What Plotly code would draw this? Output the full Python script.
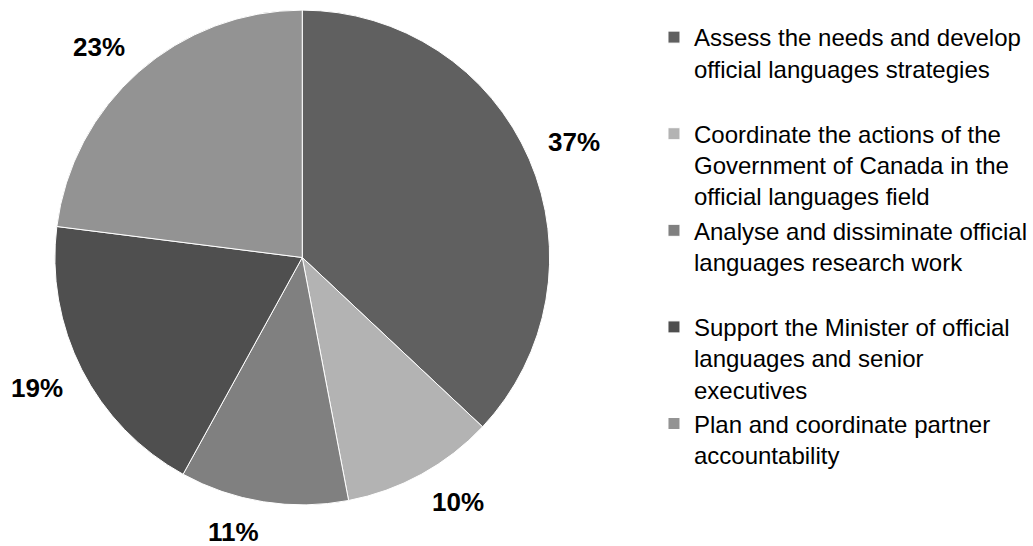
import math
import plotly.graph_objects as go

categories = [
    "Assess the needs and develop<br>official languages strategies",
    "Coordinate the actions of the<br>Government of Canada in the<br>official languages field",
    "Analyse and dissiminate official<br>languages research work",
    "Support the Minister of official<br>languages and senior<br>executives",
    "Plan and coordinate partner<br>accountability",
]
values = [37, 10, 11, 19, 23]
colors = ["#606060", "#b3b3b3", "#808080", "#4f4f4f", "#939393"]

W, H = 1033, 546
dom_x = [0.0537, 0.5378]
dom_y = [0.0705, 0.9863]

# pad every legend entry to 3 lines so entries are evenly spaced like the original
labels = []
for c in categories:
    n = c.count("<br>") + 1
    labels.append(c + "<br>\u00a0" * (3 - n))

fig = go.Figure(
    go.Pie(
        labels=labels,
        values=values,
        sort=False,
        direction="clockwise",
        rotation=0,
        marker=dict(colors=colors, line=dict(color="white", width=1)),
        textinfo="none",
        domain=dict(x=dom_x, y=dom_y),
        hoverinfo="label+percent",
    )
)

# percentage labels: the label corner nearest the pie sits on a circle just
# outside the pie, at each slice's mid angle (Excel "outside end" style)
total = sum(values)
cx = (dom_x[0] + dom_x[1]) / 2
cy = (dom_y[0] + dom_y[1]) / 2
r_px = min((dom_x[1] - dom_x[0]) * W, (dom_y[1] - dom_y[0]) * H) / 2
offset = 20
R = r_px + offset
cum = 0
annotations = []
for v in values:
    mid = (cum + v / 2) / total * 2 * math.pi
    cum += v
    s, c = math.sin(mid), math.cos(mid)
    upper = c > 0
    annotations.append(
        dict(
            x=cx + R * s / W,
            y=cy + R * c / H,
            xref="paper",
            yref="paper",
            xanchor="left" if s > 0 else "right",
            yanchor="bottom" if upper else "top",
            yshift=-8 if upper else 8,
            borderpad=0,
            text=f"{round(v / total * 100)}%",
            showarrow=False,
            font=dict(family="Liberation Sans, Arial", size=26, color="black", weight="bold"),
        )
    )

fig.update_layout(
    width=W,
    height=H,
    margin=dict(l=0, r=0, t=0, b=0),
    paper_bgcolor="white",
    plot_bgcolor="white",
    font=dict(family="Liberation Sans, Arial", color="black"),
    showlegend=True,
    annotations=annotations,
    legend=dict(
        x=0.6399,
        xanchor="left",
        y=0.9725,
        yanchor="top",
        valign="top",
        font=dict(family="Liberation Sans, Arial", size=24, color="black"),
        bgcolor="rgba(0,0,0,0)",
        itemclick=False,
    ),
)

fig.write_html("out.html")
